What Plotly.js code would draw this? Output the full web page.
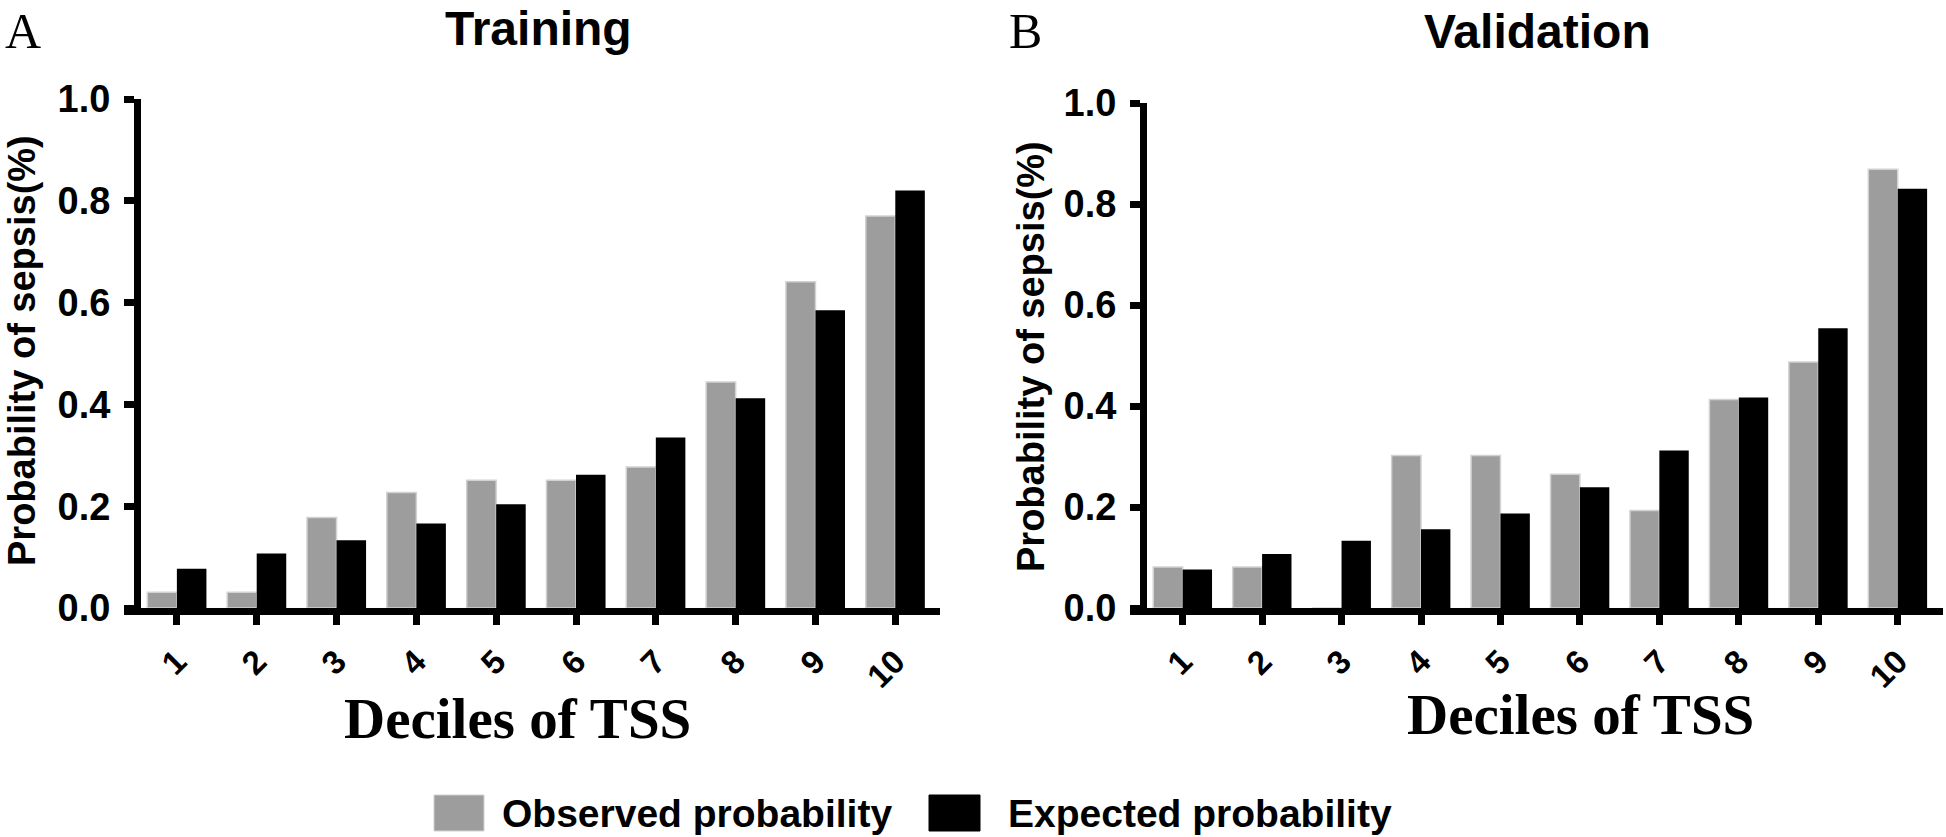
<!DOCTYPE html>
<html><head><meta charset="utf-8">
<script src="https://cdn.plot.ly/plotly-3.0.1.min.js"></script>
<style>html,body{margin:0;padding:0;background:#fff}#chart{width:1946px;height:837px}</style>
</head><body><div id="chart"></div>
<script>
// ---- data ----
const deciles = ['1','2','3','4','5','6','7','8','9','10'];
const trainingObserved = [0.031,0.031,0.178,0.227,0.251,0.251,0.277,0.444,0.641,0.770];
const trainingExpected = [0.077,0.107,0.133,0.166,0.204,0.262,0.335,0.412,0.585,0.820];
const validationObserved = [0.081,0.081,0.0,0.302,0.302,0.265,0.193,0.413,0.487,0.869];
const validationExpected = [0.076,0.107,0.133,0.156,0.187,0.239,0.312,0.417,0.554,0.830];
const seriesNames = ['Observed probability','Expected probability'];
const panelTitles = ['Training','Validation'];
const panelLetters = ['A','B'];
const xTitle = 'Deciles of TSS';
const yTitle = 'Probability of sepsis(%)';
const yTickVals = [0,0.2,0.4,0.6,0.8,1.0];
const yTickText = ['0.0','0.2','0.4','0.6','0.8','1.0'];

// ---- styling ----
const W = 1946, H = 837;
const fx = p => p / W, fy = p => 1 - p / H;
const GREY = '#9d9d9d', BLACK = '#000000';
const SANS = 'Liberation Sans, Arial, sans-serif';
const SERIF = 'Liberation Serif, Times New Roman, serif';

function bars(y, idx, xa, ya) {
  return {
    type: 'bar', x: deciles, y: y, name: seriesNames[idx], xaxis: xa, yaxis: ya,
    marker: idx === 0 ? {color: GREY, line: {color: '#d2d2d2', width: 1.5}}
                      : {color: BLACK, line: {color: BLACK, width: 0}},
    hoverinfo: 'x+y'
  };
}
const data = [
  bars(trainingObserved, 0, 'x', 'y'),
  bars(trainingExpected, 1, 'x', 'y'),
  bars(validationObserved, 0, 'x2', 'y2'),
  bars(validationExpected, 1, 'x2', 'y2')
];

function xAxis(d0, d1, anchor, hi) {
  return {
    domain: [fx(d0), fx(d1)], anchor: anchor, type: 'category',
    range: [-0.5 - 13/80, hi],
    showline: true, linewidth: 7, linecolor: BLACK,
    ticks: 'outside', ticklen: 10, tickwidth: 7, tickcolor: BLACK,
    tickangle: -45, ticklabelstandoff: 4,
    tickfont: {family: SANS, size: 33, color: BLACK, weight: 'bold'},
    showgrid: false, zeroline: false, fixedrange: true
  };
}
function yAxis(top, pos) {
  return {
    domain: [fy(608), fy(top)], anchor: 'free', position: fx(pos),
    range: [0, 1],
    showline: true, linewidth: 7, linecolor: BLACK,
    ticks: 'outside', ticklen: 10, tickwidth: 7, tickcolor: BLACK,
    tickvals: yTickVals, ticktext: yTickText, ticklabelstandoff: 6,
    tickfont: {family: SANS, size: 38, color: BLACK, weight: 'bold'},
    showgrid: false, zeroline: false, fixedrange: true
  };
}

function ann(text, x, y, font, extra) {
  return Object.assign({text: text, x: fx(x), y: fy(y), xref: 'paper', yref: 'paper',
    showarrow: false, xanchor: 'center', yanchor: 'middle', font: font}, extra || {});
}
const annotations = [
  ann(panelTitles[0], 538, 28, {family: SANS, size: 48, color: BLACK, weight: 'bold'}),
  ann(panelTitles[1], 1537, 32, {family: SANS, size: 48, color: BLACK, weight: 'bold'}),
  ann(panelLetters[0], 23, 1, {family: SERIF, size: 50, color: BLACK}, {yanchor: 'top'}),
  ann(panelLetters[1], 1025, 1, {family: SERIF, size: 50, color: BLACK}, {yanchor: 'top'}),
  ann(xTitle, 517, 718, {family: SERIF, size: 57, color: BLACK, weight: 'bold'}),
  ann(xTitle, 1580, 714, {family: SERIF, size: 57, color: BLACK, weight: 'bold'}),
  ann(yTitle, 22, 351, {family: SANS, size: 38, color: BLACK, weight: 'bold'}, {textangle: -90}),
  ann(yTitle, 1031, 357, {family: SANS, size: 38, color: BLACK, weight: 'bold'}, {textangle: -90}),
  ann(seriesNames[0], 500, 813, {family: SANS, size: 39, color: BLACK, weight: 'bold'}, {xanchor: 'left'}),
  ann(seriesNames[1], 1006, 813, {family: SANS, size: 39, color: BLACK, weight: 'bold'}, {xanchor: 'left'})
];
const shapes = [
  {type: 'rect', xref: 'paper', yref: 'paper', x0: fx(434), x1: fx(484), y0: fy(831), y1: fy(795),
   fillcolor: GREY, line: {color: '#d2d2d2', width: 1}},
  {type: 'rect', xref: 'paper', yref: 'paper', x0: fx(929), x1: fx(980), y0: fy(831), y1: fy(795),
   fillcolor: BLACK, line: {color: BLACK, width: 1}}
];

const layout = {
  width: W, height: H, autosize: false,
  margin: {l: 0, r: 0, t: 0, b: 0, pad: 0},
  paper_bgcolor: '#ffffff', plot_bgcolor: 'rgba(0,0,0,0)',
  barmode: 'group', bargap: 0.26, bargroupgap: 0,
  showlegend: false,
  xaxis: xAxis(124, 940, 'y', 9.56),
  yaxis: yAxis(99, 137),
  xaxis2: xAxis(1130, 1943, 'y2', 9.57),
  yaxis2: yAxis(103, 1143),
  annotations: annotations,
  shapes: shapes
};
Plotly.newPlot('chart', data, layout, {displayModeBar: false, staticPlot: true});
</script>
</body></html>
